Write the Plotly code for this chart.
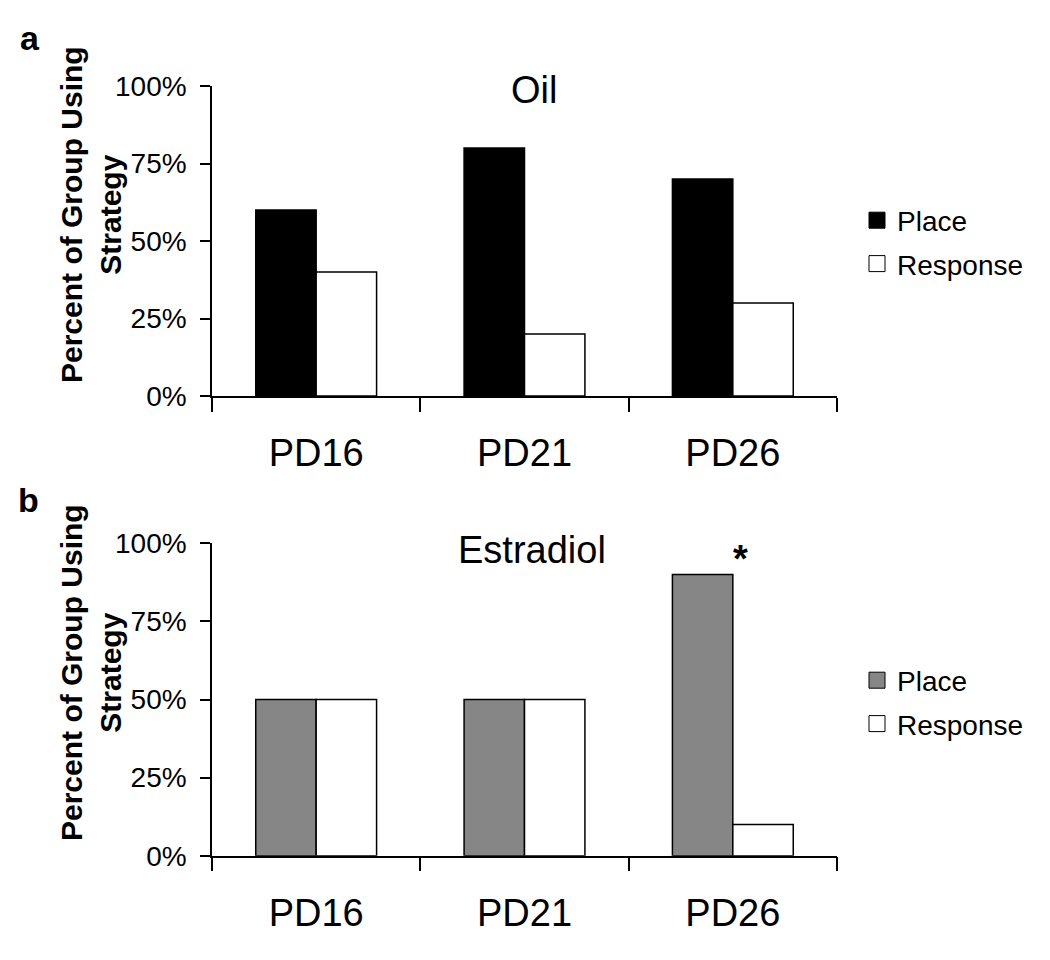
import plotly.graph_objects as go

categories = ["PD16", "PD21", "PD26"]
oil_place = [0.60, 0.80, 0.70]
oil_response = [0.40, 0.20, 0.30]
estr_place = [0.50, 0.50, 0.90]
estr_response = [0.50, 0.50, 0.10]
y_ticks = [0, 0.25, 0.5, 0.75, 1.0]
y_ticktext = ["0%", "25%", "50%", "75%", "100%"]

FONT = "Arial, Liberation Sans, sans-serif"
OFF = 8  # browser body margin
W, H = 1050 - 2 * OFF, 960 - 2 * OFF

def px(x):
    return (x - OFF) / W

def py(y):
    return 1 - (y - OFF) / H

fig = go.Figure()
line = dict(color="black", width=1.5)

fig.add_trace(go.Bar(x=categories, y=oil_place, marker=dict(color="black", line=line),
                     showlegend=False, xaxis="x", yaxis="y"))
fig.add_trace(go.Bar(x=categories, y=oil_response, marker=dict(color="white", line=line),
                     showlegend=False, xaxis="x", yaxis="y"))
fig.add_trace(go.Bar(x=categories, y=estr_place, marker=dict(color="#868686", line=line),
                     showlegend=False, xaxis="x2", yaxis="y2"))
fig.add_trace(go.Bar(x=categories, y=estr_response, marker=dict(color="white", line=line),
                     showlegend=False, xaxis="x2", yaxis="y2"))

# legend entries
for name, col, lg, grp in [("Place", "black", "legend", "a1"), ("Response", "white", "legend", "a2"),
                           ("Place", "#868686", "legend2", "b1"), ("Response", "white", "legend2", "b2")]:
    fig.add_trace(go.Scatter(x=[None], y=[None], mode="markers", name=name, legend=lg, legendgroup=grp,
                             marker=dict(symbol="square", size=16, color=col, line=dict(color="black", width=1)),
                             xaxis="x", yaxis="y"))

xcommon = dict(type="category", tickson="boundaries", ticks="outside", ticklen=14, tickwidth=1.5,
               tickcolor="black", showline=True, linecolor="black", linewidth=1.5, showgrid=False,
               zeroline=False, tickfont=dict(family=FONT, size=38, color="black"), automargin=False,
               ticklabelstandoff=23, range=[-0.5, 2.5], domain=[px(212), px(837)])
ycommon = dict(range=[0, 1], tickvals=y_ticks, ticktext=y_ticktext, ticks="outside", ticklen=10,
               tickwidth=1.5, tickcolor="black", showline=True, linecolor="black", linewidth=1.5,
               showgrid=False, zeroline=False, tickfont=dict(family=FONT, size=28, color="black"),
               ticklabelstandoff=8, automargin=False)

legcommon = dict(font=dict(family=FONT, size=28, color="black"), xanchor="left", yanchor="middle",
                 bgcolor="rgba(0,0,0,0)", tracegroupgap=4, itemclick=False)

def ann(text, x, y, size, angle=0):
    return dict(text=text, x=px(x), y=py(y), xref="paper", yref="paper", showarrow=False,
                xanchor="center", yanchor="middle", textangle=angle,
                font=dict(family=FONT, size=size, color="black"))

fig.update_layout(
    width=W, height=H, margin=dict(l=0, r=0, t=0, b=0, autoexpand=False),
    paper_bgcolor="white", plot_bgcolor="white",
    barmode="group", bargap=0.42, bargroupgap=0,
    xaxis=dict(**xcommon, anchor="y"),
    yaxis=dict(**ycommon, domain=[py(396), py(86)], anchor="x"),
    xaxis2=dict(**xcommon, anchor="y2"),
    yaxis2=dict(**ycommon, domain=[py(855.7), py(543.3)], anchor="x2"),
    legend=dict(**legcommon, x=px(857), y=py(242)),
    legend2=dict(**legcommon, x=px(857), y=py(702)),
    annotations=[
        ann("Oil", 534, 90, 38),
        ann("Estradiol", 532, 550, 38),
        ann("<b>*</b>", 740, 559, 38),
        ann("<b>Percent of Group Using<br>Strategy</b>", 91, 215, 30, -90),
        ann("<b>Percent of Group Using<br>Strategy</b>", 91, 673, 30, -90),
        ann("<b>a</b>", 30, 38, 34),
        ann("<b>b</b>", 28, 500, 34),
    ],
)

fig.write_html("out.html")
